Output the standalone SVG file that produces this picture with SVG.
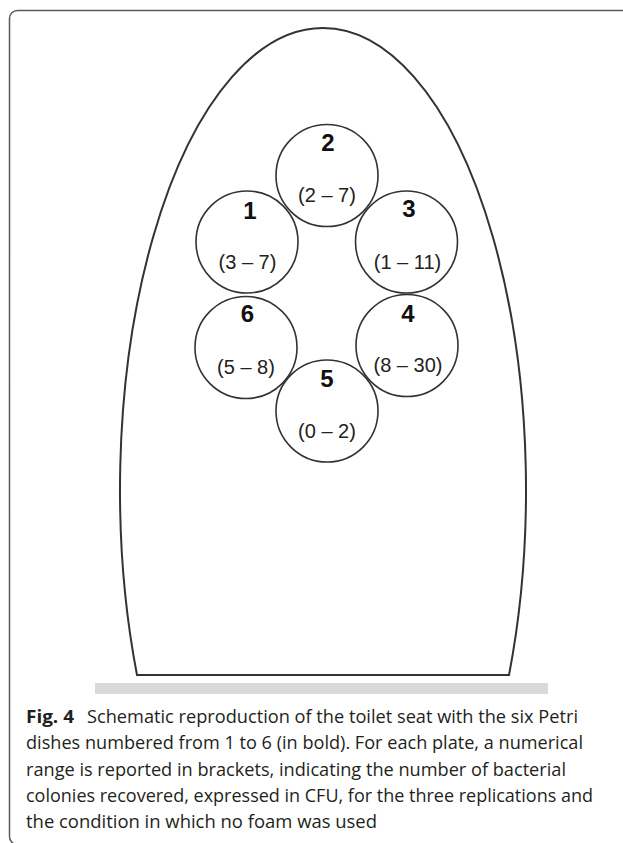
<svg xmlns="http://www.w3.org/2000/svg" width="623" height="843" viewBox="0 0 623 843">
<style>
.frame{fill:none;stroke:#5a5a5a;stroke-width:1.5}
.seat{fill:#fff;stroke:#333;stroke-width:2}
.dish{fill:#fff;stroke:#333;stroke-width:1.6}
.num{font-family:"Liberation Sans",Arial,sans-serif;font-weight:bold;font-size:24px;fill:#111;text-anchor:middle}
.rng{font-family:"Liberation Sans",Arial,sans-serif;font-size:20px;fill:#222;text-anchor:middle}
.cap{font-family:"Open Sans","Noto Sans",sans-serif;font-size:17.5px;fill:#231f20}
.capb{font-weight:bold}
</style>
<rect width="623" height="843" fill="#fff"/>
<rect class="frame" x="9.5" y="10.5" width="700" height="834" rx="8"/>
<g id="seat">
<path class="seat" d="M137,675 A203,462 0 1,1 509,675 Z"/>
</g>
<rect id="floor" x="95" y="683" width="453" height="11" fill="#d9d9d9"/>
<g id="dish2"><circle class="dish" cx="327" cy="175.5" r="51"/><text class="num" x="328" y="151">2</text><text class="rng" x="327" y="202">(2 – 7)</text></g>
<g id="dish1"><circle class="dish" cx="247" cy="242" r="51"/><text class="num" x="250" y="219">1</text><text class="rng" x="247.5" y="269">(3 – 7)</text></g>
<g id="dish3"><circle class="dish" cx="406.5" cy="242" r="51"/><text class="num" x="409" y="217">3</text><text class="rng" x="407.5" y="269">(1 – 11)</text></g>
<g id="dish6"><circle class="dish" cx="246" cy="347.5" r="51"/><text class="num" x="247.5" y="321.5">6</text><text class="rng" x="246" y="374">(5 – 8)</text></g>
<g id="dish4"><circle class="dish" cx="407" cy="345.5" r="51"/><text class="num" x="408" y="321.5">4</text><text class="rng" x="408" y="372">(8 – 30)</text></g>
<g id="dish5"><circle class="dish" cx="327" cy="411" r="51"/><text class="num" x="327" y="387">5</text><text class="rng" x="327" y="438">(0 – 2)</text></g>
<g id="caption">
<text class="cap capb" x="26" y="723" textLength="48" lengthAdjust="spacingAndGlyphs">Fig. 4</text>
<text class="cap" x="87" y="723" textLength="491" lengthAdjust="spacingAndGlyphs">Schematic reproduction of the toilet seat with the six Petri</text>
<text class="cap" x="26" y="749" textLength="557" lengthAdjust="spacingAndGlyphs">dishes numbered from 1 to 6 (in bold). For each plate, a numerical</text>
<text class="cap" x="26" y="775.5" textLength="540" lengthAdjust="spacingAndGlyphs">range is reported in brackets, indicating the number of bacterial</text>
<text class="cap" x="26" y="801.5" textLength="567" lengthAdjust="spacingAndGlyphs">colonies recovered, expressed in CFU, for the three replications and</text>
<text class="cap" x="26" y="828" textLength="351" lengthAdjust="spacingAndGlyphs">the condition in which no foam was used</text>
</g>
</svg>
